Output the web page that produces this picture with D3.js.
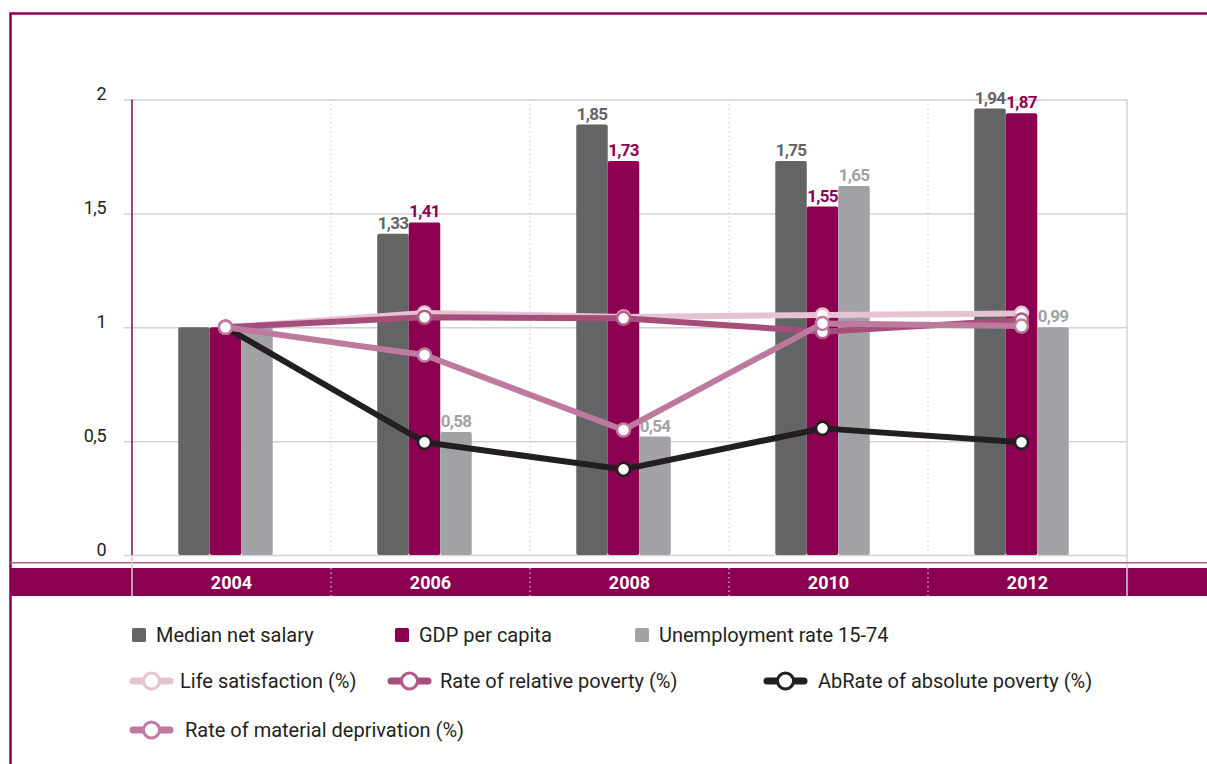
<!DOCTYPE html>
<html>
<head>
<meta charset="utf-8">
<script src="https://cdn.jsdelivr.net/npm/d3@7"></script>
<style>
body { margin: 0; background: #fff; }
text { font-family: Roboto, "Liberation Sans", sans-serif; }
</style>
</head>
<body>
<div id="chart"></div>
<script>
var years = ["2004", "2006", "2008", "2010", "2012"];
var yTicks = [0, 0.5, 1, 1.5, 2];

// bar series (heights as drawn) and the labels printed above them
var salary = [1.0, 1.41, 1.89, 1.73, 1.96];
var gdp = [1.0, 1.46, 1.73, 1.53, 1.94];
var unemployment = [1.0, 0.54, 0.52, 1.62, 1.0];
var salaryLabels = ["", "1,33", "1,85", "1,75", "1,94"];
var gdpLabels = ["", "1,41", "1,73", "1,55", "1,87"];
var unemploymentLabels = ["", "0,58", "0,54", "1,65", "0,99"];

// line series
var lifeSatisfaction = [1.0, 1.063, 1.045, 1.054, 1.061];
var relativePoverty = [1.0, 1.044, 1.039, 0.98, 1.032];
var materialDeprivation = [1.0, 0.878, 0.549, 1.017, 1.005];
var absolutePoverty = [1.0, 0.495, 0.376, 0.556, 0.495];

var magenta = "#8b0051";
var bars = [
  {name: "Median net salary", values: salary, labels: salaryLabels, color: "#636466"},
  {name: "GDP per capita", values: gdp, labels: gdpLabels, color: magenta},
  {name: "Unemployment rate 15-74", values: unemployment, labels: unemploymentLabels, color: "#a1a2a6"}
];
var lines = [
  {name: "AbRate of absolute poverty (%)", values: absolutePoverty, color: "#231f20", dot: "#231f20"},
  {name: "Life satisfaction (%)", values: lifeSatisfaction, color: "#e6c3d2", dot: "#e6c3d2"},
  {name: "Rate of relative poverty (%)", values: relativePoverty, color: "#a64e7b", dot: "#b45a8a"},
  {name: "Rate of material deprivation (%)", values: materialDeprivation, color: "#bd7a9e", dot: "#c27aa2"}
];

var width = 1207, height = 764;
var plot = {left: 132, right: 1127, top: 99.5, bottom: 555};

var svg = d3.select("#chart").append("svg")
  .attr("width", width)
  .attr("height", height);

var x = d3.scaleBand().domain(years).range([plot.left, plot.right]);
var y = d3.scaleLinear().domain([0, 2]).range([plot.bottom, plot.top]);
var barW = 31.5;
var groupShift = -6;
function centre(d) { return x(d) + x.bandwidth() / 2 + groupShift; }

// outer frame
svg.append("rect")
  .attr("x", 10.5).attr("y", 13.5)
  .attr("width", 1400).attr("height", 900)
  .attr("fill", "none")
  .attr("stroke", magenta)
  .attr("stroke-width", 2.5);

// y grid + tick labels
var yAxis = svg.append("g")
  .attr("transform", "translate(124,0)")
  .call(d3.axisLeft(y)
    .tickValues(yTicks)
    .tickSizeInner(-(plot.right - 124))
    .tickSizeOuter(0)
    .tickPadding(18)
    .tickFormat(function (d) { return String(d).replace(".", ","); }));
yAxis.select(".domain").remove();
yAxis.selectAll("line").attr("stroke", "#d3d3d3").attr("stroke-width", 1.5);
yAxis.selectAll("text")
  .attr("dy", 0)
  .attr("fill", "#231f20")
  .style("font-size", "18px")
  .style("letter-spacing", "-0.5px");

// dotted band dividers
svg.selectAll(".divider")
  .data(years.slice(1))
  .enter().append("line")
  .attr("class", "divider")
  .attr("x1", function (d) { return x(d); })
  .attr("x2", function (d) { return x(d); })
  .attr("y1", plot.top).attr("y2", plot.bottom)
  .attr("stroke", "#d6d6d6")
  .attr("stroke-width", 1.2)
  .attr("stroke-dasharray", "1.5,3");

// right border
svg.append("line")
  .attr("x1", plot.right).attr("x2", plot.right)
  .attr("y1", plot.top).attr("y2", 596)
  .attr("stroke", "#d3d3d3").attr("stroke-width", 1.5);

// x band
svg.append("line")
  .attr("x1", 10).attr("x2", width)
  .attr("y1", 562.7).attr("y2", 562.7)
  .attr("stroke", "#b35c88").attr("stroke-width", 1.5);
svg.append("rect")
  .attr("x", 10).attr("y", 568)
  .attr("width", width - 10).attr("height", 28)
  .attr("fill", magenta);
svg.selectAll(".bandDiv")
  .data(years.slice(1))
  .enter().append("line")
  .attr("class", "bandDiv")
  .attr("x1", function (d) { return x(d); })
  .attr("x2", function (d) { return x(d); })
  .attr("y1", 568).attr("y2", 596)
  .attr("stroke", "#e8c8d8")
  .attr("stroke-width", 1.2)
  .attr("stroke-dasharray", "1.5,3");
svg.append("line")
  .attr("x1", plot.left).attr("x2", plot.left)
  .attr("y1", plot.bottom).attr("y2", 596)
  .attr("stroke", "#cfcfcf").attr("stroke-width", 1.5);
svg.append("line")
  .attr("x1", plot.right).attr("x2", plot.right)
  .attr("y1", 568).attr("y2", 596)
  .attr("stroke", "#cfcfcf").attr("stroke-width", 1.5);

var xAxis = svg.append("g")
  .attr("transform", "translate(0,589)")
  .call(d3.axisBottom(x).tickSize(0).tickPadding(0));
xAxis.select(".domain").remove();
xAxis.selectAll("text")
  .attr("dy", 0)
  .attr("fill", "#fff")
  .style("font-size", "18px")
  .style("font-weight", "bold");

// bars
bars.forEach(function (s, k) {
  svg.selectAll(".bar" + k)
    .data(years)
    .enter().append("rect")
    .attr("class", "bar" + k)
    .attr("x", function (d) { return centre(d) + (k - 1.5) * barW; })
    .attr("width", barW)
    .attr("y", function (d, i) { return y(s.values[i]); })
    .attr("height", function (d, i) { return plot.bottom - y(s.values[i]); })
    .attr("rx", 2)
    .attr("fill", s.color);
});

// left axis line
svg.append("line")
  .attr("x1", plot.left).attr("x2", plot.left)
  .attr("y1", plot.top).attr("y2", plot.bottom)
  .attr("stroke", magenta).attr("stroke-width", 1.5);

// bar value labels
bars.forEach(function (s, k) {
  svg.selectAll(".lab" + k)
    .data(years)
    .enter().append("text")
    .attr("class", "lab" + k)
    .attr("x", function (d) { return centre(d) + (k - 1) * barW; })
    .attr("y", function (d, i) { return y(s.values[i]) - 5; })
    .attr("text-anchor", "middle")
    .attr("fill", s.color)
    .style("font-size", "17px")
    .style("font-weight", "bold")
    .style("letter-spacing", "-0.7px")
    .text(function (d, i) { return s.labels[i]; });
});

// lines
var line = d3.line()
  .x(function (d) { return centre(d.year); })
  .y(function (d) { return y(d.v); });

lines.forEach(function (s, k) {
  var pts = years.map(function (d, i) { return {year: d, v: s.values[i]}; });
  svg.append("path")
    .datum(pts)
    .attr("d", line)
    .attr("fill", "none")
    .attr("stroke", s.color)
    .attr("stroke-width", 6)
    .attr("stroke-linejoin", "round");
  svg.selectAll(".dot" + k)
    .data(pts)
    .enter().append("circle")
    .attr("class", "dot" + k)
    .attr("cx", function (d) { return centre(d.year); })
    .attr("cy", function (d) { return y(d.v); })
    .attr("r", 6.5)
    .attr("fill", "#fff")
    .attr("stroke", s.dot)
    .attr("stroke-width", 2.5);
});

// legend
var legText = "#231f20";
var barLeg = [{s: bars[0], x: 132}, {s: bars[1], x: 395}, {s: bars[2], x: 635}];
barLeg.forEach(function (l) {
  svg.append("rect")
    .attr("x", l.x).attr("y", 628)
    .attr("width", 14).attr("height", 14)
    .attr("rx", 1.5)
    .attr("fill", l.s.color);
  svg.append("text")
    .attr("x", l.x + 24).attr("y", 642)
    .attr("fill", legText)
    .style("font-size", "20px")
    .text(l.s.name);
});

var lineLeg = [
  {s: lines[1], x: 130, y: 681, tx: 180},
  {s: lines[2], x: 388, y: 681, tx: 440},
  {s: lines[0], x: 764, y: 681, tx: 818},
  {s: lines[3], x: 130, y: 730, tx: 185}
];
lineLeg.forEach(function (l) {
  svg.append("line")
    .attr("x1", l.x + 3).attr("x2", l.x + 40)
    .attr("y1", l.y).attr("y2", l.y)
    .attr("stroke", l.s.color)
    .attr("stroke-width", 7)
    .attr("stroke-linecap", "round");
  svg.append("circle")
    .attr("cx", l.x + 21.5).attr("cy", l.y)
    .attr("r", 8)
    .attr("fill", "#fff")
    .attr("stroke", l.s.dot)
    .attr("stroke-width", 3);
  svg.append("text")
    .attr("x", l.tx).attr("y", l.y + 7)
    .attr("fill", legText)
    .style("font-size", "20px")
    .text(l.s.name);
});
</script>
</body>
</html>
